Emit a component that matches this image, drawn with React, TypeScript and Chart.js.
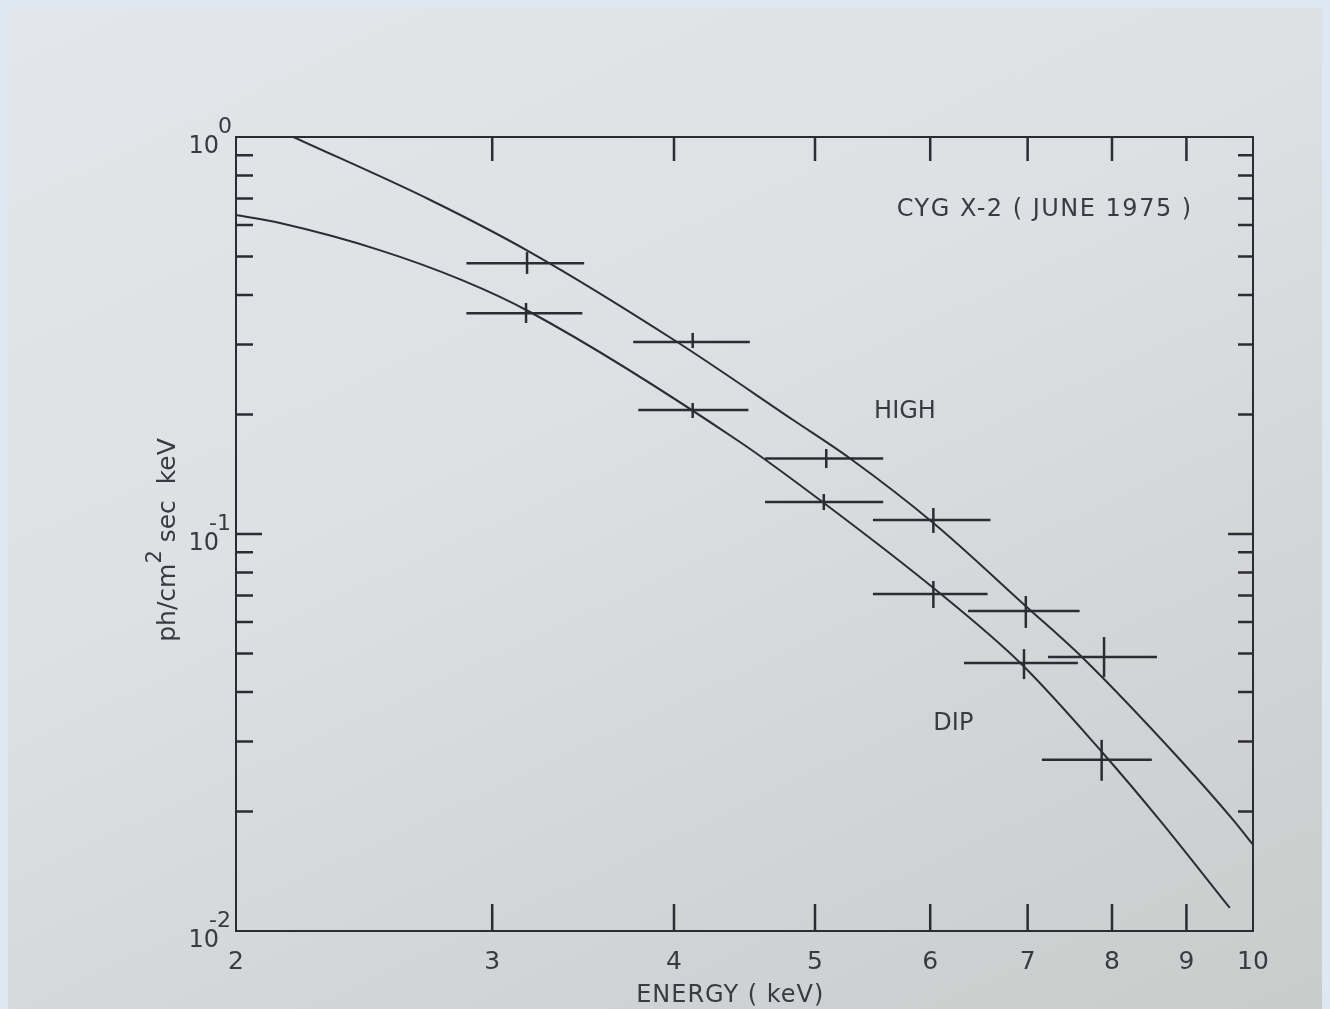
import React, { useEffect, useRef } from "react";
import { Chart, registerables } from "chart.js";

Chart.register(...registerables);

// ---- axes ----
const X_MIN = 2;
const X_MAX = 10;
const Y_MIN = 0.01;
const Y_MAX = 1;
const X_TICK_VALUES = [2, 3, 4, 5, 6, 7, 8, 9, 10];
const X_TICK_LABELS = ["2", "3", "4", "5", "6", "7", "8", "9", "10"];
const Y_DECADES = [1, 0.1, 0.01];
const Y_EXPONENTS = ["0", "-1", "-2"];
const X_TITLE = "ENERGY ( keV)";
const Y_TITLE_PARTS = ["ph/cm", "2", " sec  keV"];
const SOURCE_LABEL = "CYG X-2 ( JUNE 1975 )";

// ---- HIGH state data points (energy keV, flux ph/cm2 sec keV) ----
const HIGH_E = [3.17, 4.12, 5.09, 6.03, 6.98, 7.9];
const HIGH_E_LO = [2.88, 3.75, 4.62, 5.48, 6.37, 7.23];
const HIGH_E_HI = [3.47, 4.51, 5.57, 6.6, 7.6, 8.59];
const HIGH_FLUX = [0.481, 0.3045, 0.155, 0.1085, 0.064, 0.049];
const HIGH_FLUX_LO = [0.452, 0.294, 0.1466, 0.1006, 0.058, 0.0436];
const HIGH_FLUX_HI = [0.513, 0.321, 0.1637, 0.1163, 0.0698, 0.055];

// ---- DIP state data points ----
const DIP_E = [3.165, 4.12, 5.07, 6.03, 6.96, 7.87];
const DIP_E_LO = [2.88, 3.78, 4.62, 5.48, 6.33, 7.16];
const DIP_E_HI = [3.46, 4.5, 5.57, 6.57, 7.58, 8.52];
const DIP_FLUX = [0.36, 0.2053, 0.1204, 0.0706, 0.0473, 0.027];
const DIP_FLUX_LO = [0.34, 0.196, 0.1149, 0.0651, 0.0431, 0.0239];
const DIP_FLUX_HI = [0.382, 0.2138, 0.1261, 0.0761, 0.0513, 0.0303];

// ---- model curves ----
const HIGH_MODEL_E = [2.19, 2.72, 3.185, 4.02, 4.83, 5.28, 6.03, 6.99, 7.64, 8.91, 9.69, 10.0];
const HIGH_MODEL_F = [1.0, 0.694, 0.513, 0.3045, 0.1937, 0.1554, 0.1066, 0.0655, 0.0487, 0.027, 0.01905, 0.0165];
const DIP_MODEL_E = [2.0, 2.144, 2.51, 2.86, 3.185, 4.44, 5.06, 6.09, 6.92, 7.89, 8.63, 9.64];
const DIP_MODEL_F = [0.636, 0.607, 0.519, 0.436, 0.3624, 0.1705, 0.1204, 0.071, 0.0473, 0.028, 0.019, 0.01143];

// ---- annotation anchors (data coordinates) ----
const SOURCE_AT = { x: 5.69, y: 0.655 };
const HIGH_LABEL_AT = { x: 5.49, y: 0.203 };
const DIP_LABEL_AT = { x: 6.03, y: 0.0332 };

const INK = "#2c2c34";
const TEXT = "#3a3a42";
const FONT = '"DejaVu Sans", sans-serif';

function seg(points: { x: number; y: number }[], width: number) {
  return {
    data: points,
    borderColor: INK,
    borderWidth: width,
    pointRadius: 0,
    fill: false,
    tension: 0,
  };
}

function errorBars(E: number[], ELo: number[], EHi: number[], F: number[], FLo: number[], FHi: number[]) {
  const sets: any[] = [];
  E.forEach((e, i) => {
    sets.push(seg([{ x: ELo[i], y: F[i] }, { x: EHi[i], y: F[i] }], 2.5));
    sets.push(seg([{ x: e, y: FLo[i] }, { x: e, y: FHi[i] }], 2.5));
  });
  return sets;
}

function curve(E: number[], F: number[]) {
  return {
    data: E.map((e, i) => ({ x: e, y: F[i] })),
    borderColor: INK,
    borderWidth: 2,
    pointRadius: 0,
    fill: false,
    cubicInterpolationMode: "monotone" as const,
  };
}

const paperPlugin = {
  id: "paperAxes",
  afterDraw(chart: any) {
    const { ctx, chartArea: a, scales } = chart;
    const xs = scales.x;
    const ys = scales.y;
    ctx.save();
    ctx.strokeStyle = INK;
    ctx.lineWidth = 2;
    ctx.strokeRect(a.left, a.top, a.right - a.left, a.bottom - a.top);

    // y ticks (inward, left and right)
    ctx.lineWidth = 2.5;
    [0.01, 0.1].forEach((dec) => {
      for (let m = 1; m <= 9; m++) {
        const v = dec * m;
        if (v <= Y_MIN * 1.0001 || v >= Y_MAX * 0.9999) continue;
        const py = ys.getPixelForValue(v);
        const lenL = m === 1 ? 26 : 17;
        const lenR = m === 1 ? 25 : 15;
        ctx.beginPath();
        ctx.moveTo(a.left, py);
        ctx.lineTo(a.left + lenL, py);
        ctx.moveTo(a.right, py);
        ctx.lineTo(a.right - lenR, py);
        ctx.stroke();
      }
    });
    // x ticks (inward, top and bottom)
    X_TICK_VALUES.forEach((v) => {
      if (v <= X_MIN || v >= X_MAX) return;
      const px = xs.getPixelForValue(v);
      ctx.beginPath();
      ctx.moveTo(px, a.bottom);
      ctx.lineTo(px, a.bottom - 27);
      ctx.moveTo(px, a.top);
      ctx.lineTo(px, a.top + 24);
      ctx.stroke();
    });

    ctx.fillStyle = TEXT;
    // x labels
    ctx.font = `25px ${FONT}`;
    ctx.textAlign = "center";
    ctx.textBaseline = "middle";
    X_TICK_VALUES.forEach((v, i) => {
      ctx.fillText(X_TICK_LABELS[i], xs.getPixelForValue(v), a.bottom + 31);
    });
    // x title
    ctx.font = `24px ${FONT}`;
    (ctx as any).letterSpacing = "1px";
    ctx.fillText(X_TITLE, a.left + (a.right - a.left) * 0.486, a.bottom + 65);
    (ctx as any).letterSpacing = "0px";

    // y labels 10^n
    Y_DECADES.forEach((d, i) => {
      const py = ys.getPixelForValue(d);
      ctx.font = `24px ${FONT}`;
      ctx.textAlign = "right";
      ctx.textBaseline = "middle";
      const right = a.left - 17;
      ctx.fillText("10", right, py + 10);
      ctx.font = `22px ${FONT}`;
      ctx.textAlign = "left";
      const exp = Y_EXPONENTS[i];
      const ex = exp.startsWith("-") ? right - 10 : right - 1;
      ctx.fillText(exp, ex, py - 10);
    });

    // y title (rotated)
    ctx.save();
    ctx.translate(a.left - 68, (a.top + a.bottom) / 2 + 6);
    ctx.rotate(-Math.PI / 2);
    ctx.textBaseline = "middle";
    ctx.textAlign = "left";
    ctx.font = `25px ${FONT}`;
    const w0 = ctx.measureText(Y_TITLE_PARTS[0]).width;
    ctx.font = `21px ${FONT}`;
    const w1 = ctx.measureText(Y_TITLE_PARTS[1]).width;
    ctx.font = `25px ${FONT}`;
    const w2 = ctx.measureText(Y_TITLE_PARTS[2]).width;
    let cx = -(w0 + w1 + w2) / 2;
    ctx.fillText(Y_TITLE_PARTS[0], cx, 0);
    cx += w0;
    ctx.font = `21px ${FONT}`;
    ctx.fillText(Y_TITLE_PARTS[1], cx, -12);
    cx += w1;
    ctx.font = `25px ${FONT}`;
    ctx.fillText(Y_TITLE_PARTS[2], cx, 0);
    ctx.restore();

    // annotations
    ctx.textAlign = "left";
    ctx.textBaseline = "middle";
    ctx.font = `24px ${FONT}`;
    (ctx as any).letterSpacing = "1.5px";
    ctx.fillText(SOURCE_LABEL, xs.getPixelForValue(SOURCE_AT.x), ys.getPixelForValue(SOURCE_AT.y));
    (ctx as any).letterSpacing = "0px";
    ctx.fillText("HIGH", xs.getPixelForValue(HIGH_LABEL_AT.x), ys.getPixelForValue(HIGH_LABEL_AT.y));
    ctx.fillText("DIP", xs.getPixelForValue(DIP_LABEL_AT.x), ys.getPixelForValue(DIP_LABEL_AT.y));
    ctx.restore();
  },
};

export default function App() {
  const ref = useRef<HTMLCanvasElement>(null);
  useEffect(() => {
    document.body.style.background = "#dde9f2";
    document.documentElement.style.overflow = "hidden";
    document.body.style.overflow = "hidden";
    const datasets: any[] = [
      curve(HIGH_MODEL_E, HIGH_MODEL_F),
      curve(DIP_MODEL_E, DIP_MODEL_F),
      ...errorBars(HIGH_E, HIGH_E_LO, HIGH_E_HI, HIGH_FLUX, HIGH_FLUX_LO, HIGH_FLUX_HI),
      ...errorBars(DIP_E, DIP_E_LO, DIP_E_HI, DIP_FLUX, DIP_FLUX_LO, DIP_FLUX_HI),
    ];
    const chart = new Chart(ref.current!, {
      type: "line",
      data: { datasets },
      options: {
        animation: false,
        responsive: false,
        devicePixelRatio: 1,
        layout: { padding: { left: 228, top: 129, right: 69, bottom: 78 } },
        plugins: { legend: { display: false }, tooltip: { enabled: false } },
        scales: {
          x: { type: "logarithmic", min: X_MIN, max: X_MAX, display: false },
          y: { type: "logarithmic", min: Y_MIN, max: Y_MAX, display: false },
        },
      },
      plugins: [paperPlugin],
    } as any);
    return () => chart.destroy();
  }, []);
  return (
    <div
      style={{
        width: 1314,
        height: 1001,
        background: "linear-gradient(155deg, #e3e6ea 0%, #dee0e3 40%, #d4d5d7 70%, #cacbcb 100%)",
      }}
    >
      <canvas ref={ref} width={1314} height={1001} style={{ display: "block", width: 1314, height: 1001 }} />
    </div>
  );
}
